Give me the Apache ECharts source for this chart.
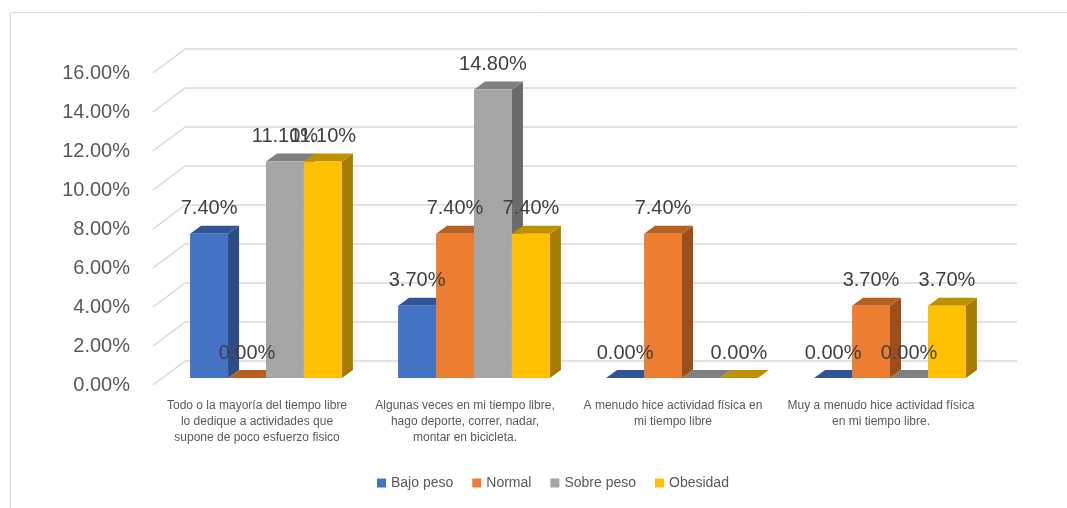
<!DOCTYPE html>
<html><head><meta charset="utf-8">
<script src="https://cdn.jsdelivr.net/npm/echarts@6/dist/echarts.min.js"></script>
<style>html,body{margin:0;padding:0;background:#fff}#c{width:1067px;height:508px}</style>
</head><body><div id="c"></div>
<script>
const categories = [
  'Todo o la mayoría del tiempo libre\nlo dedique a actividades que\nsupone de poco esfuerzo fisico',
  'Algunas veces en mi tiempo libre,\nhago deporte, correr, nadar,\nmontar en bicicleta.',
  'A menudo hice actividad física en\nmi tiempo libre',
  'Muy a menudo hice actividad física\nen mi tiempo libre.'
];
const seriesNames = ['Bajo peso', 'Normal', 'Sobre peso', 'Obesidad'];
const bajoPeso = [7.4, 3.7, 0, 0];
const normal = [0, 7.4, 7.4, 3.7];
const sobrePeso = [11.1, 14.8, 0, 0];
const obesidad = [11.1, 7.4, 0, 3.7];
const yTicks = [0, 2, 4, 6, 8, 10, 12, 14, 16];
// labels not shown in the original (series index, category index)
const hiddenLabels = [[2, 2]];

const seriesValues = [bajoPeso, normal, sobrePeso, obesidad];
const frontColors = ['#4472C4', '#ED7D31', '#A5A5A5', '#FFC000'];
const sideColors = ['#2C4C87', '#9C4F1D', '#6B6B6B', '#A67C00'];
const topColors = ['#30549A', '#B85F22', '#7F7F7F', '#BF9000'];

// 3D geometry (pixels)
const WALL_DX = 32, WALL_DY = -24;   // back wall offset from front plane
const BAR_DX = 9, BAR_DY = -7;       // bar front face offset from front plane
const DEPTH_DX = 11, DEPTH_DY = -8;  // bar depth
const GROUP_FRAC = 0.73;

const chart = echarts.init(document.getElementById('c'), null, {renderer: 'canvas'});

function barRenderer(si) {
  return function (params, api) {
    const ci = api.value(0);
    const v = api.value(1);
    const base = api.coord([ci, 0]);
    const top = api.coord([ci, v]);
    const band = api.size([1, 0])[0];
    const gw = band * GROUP_FRAC;
    const bw = gw / seriesValues.length;
    const x0 = base[0] - gw / 2 + si * bw + BAR_DX;
    const x1 = x0 + bw;
    const yb = base[1] + BAR_DY;
    const yt = top[1] + BAR_DY;
    const hidden = hiddenLabels.some(h => h[0] === si && h[1] === ci);
    const children = [
      {type: 'polygon', shape: {points: [[x1, yb], [x1 + DEPTH_DX, yb + DEPTH_DY], [x1 + DEPTH_DX, yt + DEPTH_DY], [x1, yt]]},
        style: {fill: sideColors[si]}},
      {type: 'polygon', shape: {points: [[x0, yt], [x0 + DEPTH_DX, yt + DEPTH_DY], [x1 + DEPTH_DX, yt + DEPTH_DY], [x1, yt]]},
        style: {fill: topColors[si]}},
      {type: 'rect', shape: {x: x0, y: yt, width: bw, height: yb - yt},
        style: {fill: frontColors[si]}}
    ];
    if (!hidden) {
      children.push({type: 'text', z2: 100, style: {text: v.toFixed(2) + '%', x: (x0 + x1) / 2, y: yt - 25,
        align: 'center', verticalAlign: 'middle', fill: '#404040',
        font: '20px "Liberation Sans", Arial, sans-serif'}});
    }
    return {type: 'group', children: children};
  };
}

const barSeries = seriesNames.map((name, si) => ({
  type: 'custom',
  name: name,
  z: 3,
  itemStyle: {color: frontColors[si]},
  encode: {x: 0, y: 1},
  data: seriesValues[si].map((v, i) => [i, v]),
  renderItem: barRenderer(si)
}));

const gridSeries = {
  type: 'custom',
  name: '_grid',
  z: 1,
  silent: true,
  encode: {x: 0, y: 1},
  data: yTicks.map(t => [0, t]),
  renderItem: function (params, api) {
    const cs = params.coordSys;
    const y = api.coord([0, api.value(1)])[1];
    const st = {stroke: '#D9D9D9', lineWidth: 1.5};
    return {
      type: 'group',
      children: [
        {type: 'line', shape: {x1: cs.x, y1: y, x2: cs.x + WALL_DX, y2: y + WALL_DY}, style: st},
        {type: 'line', shape: {x1: cs.x + WALL_DX, y1: y + WALL_DY, x2: cs.x + cs.width + WALL_DX, y2: y + WALL_DY}, style: st}
      ]
    };
  }
};

chart.setOption({
  animation: false,
  backgroundColor: '#fff',
  graphic: [{type: 'rect', shape: {x: 10.5, y: 12.5, width: 1100, height: 560},
    style: {fill: 'none', stroke: '#D9D9D9', lineWidth: 1}, silent: true, z: 0}],
  grid: {left: 153, right: 82, top: 73, bottom: 123},
  legend: {
    data: seriesNames,
    left: 372, top: 471,
    icon: 'rect', itemWidth: 9, itemHeight: 9, itemGap: 19,
    textStyle: {color: '#595959', fontSize: 14, fontFamily: '"Liberation Sans", Arial, sans-serif'}
  },
  xAxis: {
    type: 'category',
    data: categories,
    axisLine: {show: false}, axisTick: {show: false}, splitLine: {show: false},
    axisLabel: {interval: 0, margin: 13, color: '#595959', fontSize: 12, lineHeight: 16,
      fontFamily: '"Liberation Sans", Arial, sans-serif', align: 'center'}
  },
  yAxis: {
    type: 'value', min: 0, max: 16, interval: 2,
    axisLine: {show: false}, axisTick: {show: false}, splitLine: {show: false},
    axisLabel: {margin: 23, color: '#595959', fontSize: 20,
      fontFamily: '"Liberation Sans", Arial, sans-serif',
      formatter: v => v.toFixed(2) + '%'}
  },
  series: [gridSeries].concat(barSeries)
});
</script></body></html>
